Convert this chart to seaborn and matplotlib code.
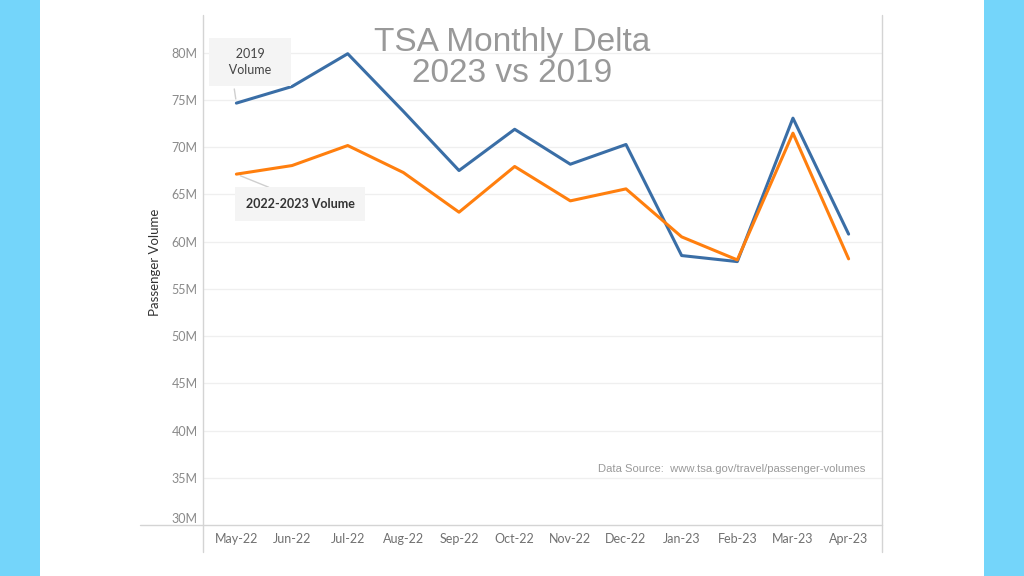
import pandas as pd
import matplotlib.pyplot as plt
import seaborn as sns

# -----------------------------------------------
# 1. DADOS (em milhoes)
# -----------------------------------------------

meses = ["May-22", "Jun-22", "Jul-22", "Aug-22", "Sep-22", "Oct-22",
         "Nov-22", "Dec-22", "Jan-23", "Feb-23", "Mar-23", "Apr-23"]
vol_2019 = [74.67, 76.43, 79.9, 73.8, 67.53, 71.9, 68.2, 70.29, 58.53, 57.89, 73.08, 60.8]
vol_2022_23 = [67.15, 68.06, 70.18, 67.32, 63.12, 67.96, 64.32, 65.59, 60.51, 58.07, 71.49, 58.18]
y_ticks = [30, 35, 40, 45, 50, 55, 60, 65, 70, 75, 80]

df = pd.DataFrame({
    "mes": meses * 2,
    "idx": list(range(len(meses))) * 2,
    "volume": vol_2019 + vol_2022_23,
    "serie": ["2019 Volume"] * len(meses) + ["2022-2023 Volume"] * len(meses),
})

# -----------------------------------------------
# 2. FIGURA
# -----------------------------------------------

sns.set_theme(style="white")
plt.rcParams["font.family"] = ["Lato", "DejaVu Sans"]

fig = plt.figure(figsize=(10.24, 5.76), dpi=100)
fig.patch.set_facecolor("#74d5fa")
# painel branco central
fig.patches.append(plt.Rectangle((40 / 1024, 0), 944 / 1024, 1, transform=fig.transFigure,
                                 facecolor="white", edgecolor="none", zorder=0))

ax = fig.add_axes([203 / 1024, 51 / 576, 679 / 1024, 510 / 576])
ax.set_zorder(2)
ax.set_facecolor("white")

cores = {"2019 Volume": "#3a6ea6", "2022-2023 Volume": "#ff7f0e"}
sns.lineplot(data=df, x="idx", y="volume", hue="serie", palette=cores,
             linewidth=2.2, legend=False, ax=ax, zorder=3)

ax.set_xlim(-0.6, 11.6)
ax.set_ylim(30, 84)
ax.set_yticks(y_ticks)
ax.set_yticklabels([f"{v}M" for v in y_ticks], color="#8a8a8a", fontsize=9)
ax.get_yticklabels()[0].set_va("bottom")
ax.set_xticks(range(len(meses)))
ax.set_xticklabels(meses, color="#707070", fontsize=9)
ax.tick_params(axis="both", length=0)
ax.tick_params(axis="x", pad=6)
ax.tick_params(axis="y", pad=4)
ax.set_xlabel("")
ax.set_ylabel("")

for v in y_ticks[1:]:
    ax.axhline(v, color="#efefef", linewidth=0.9, zorder=1)

for s in ax.spines.values():
    s.set_visible(False)

# moldura estilo Tableau
linha = dict(color="#d4d4d4", linewidth=1.0, transform=ax.transAxes, clip_on=False, zorder=4)
ax.plot([0, 0], [0, 1], **linha)
ax.plot([1, 1], [0, 1], **linha)
ax.plot([0, 0], [0, -0.053], **linha)
ax.plot([1, 1], [0, -0.053], **linha)
ax.plot([-0.093, 1], [0, 0], **linha)

fig.text(155 / 1024, 1 - 262 / 576, "Passenger Volume", rotation=90, ha="center", va="center",
         fontsize=9.5, color="#333333")

# -----------------------------------------------
# 3. TEXTOS
# -----------------------------------------------

fig.text(512 / 1024, 1 - 42 / 576, "TSA Monthly Delta", ha="center", va="center",
         fontsize=24, color="#999999", family=["Liberation Sans", "DejaVu Sans"], zorder=5)
fig.text(512 / 1024, 1 - 74 / 576, "2023 vs 2019", ha="center", va="center",
         fontsize=24, color="#999999", family=["Liberation Sans", "DejaVu Sans"], zorder=5)

ax.text(0.975, 0.11, "Data Source:  www.tsa.gov/travel/passenger-volumes", transform=ax.transAxes,
        ha="right", va="center", fontsize=8.1, color="#9a9a9a",
        family=["Liberation Sans", "DejaVu Sans"])

ax.annotate("   2019   \n   Volume   ", xy=(0, vol_2019[0]), xytext=(0.24, 79.0),
            ha="center", va="center", fontsize=9, color="#444444", linespacing=1.4,
            bbox=dict(boxstyle="square,pad=0.8", facecolor="#f4f4f4", edgecolor="none"),
            arrowprops=dict(arrowstyle="-", color="#cfcfcf", shrinkA=2, shrinkB=3,
                            relpos=(0.22, 0.0)), zorder=5)
ax.annotate("2022-2023 Volume", xy=(0, vol_2022_23[0]), xytext=(1.15, 64.0),
            ha="center", va="center", fontsize=9, color="#333333", fontweight="bold",
            bbox=dict(boxstyle="square,pad=0.85", facecolor="#f4f4f4", edgecolor="none"),
            arrowprops=dict(arrowstyle="-", color="#cfcfcf", shrinkA=0, shrinkB=3,
                            relpos=(0.45, 1.0)), zorder=5)

fig.savefig("out.png", dpi=100)
